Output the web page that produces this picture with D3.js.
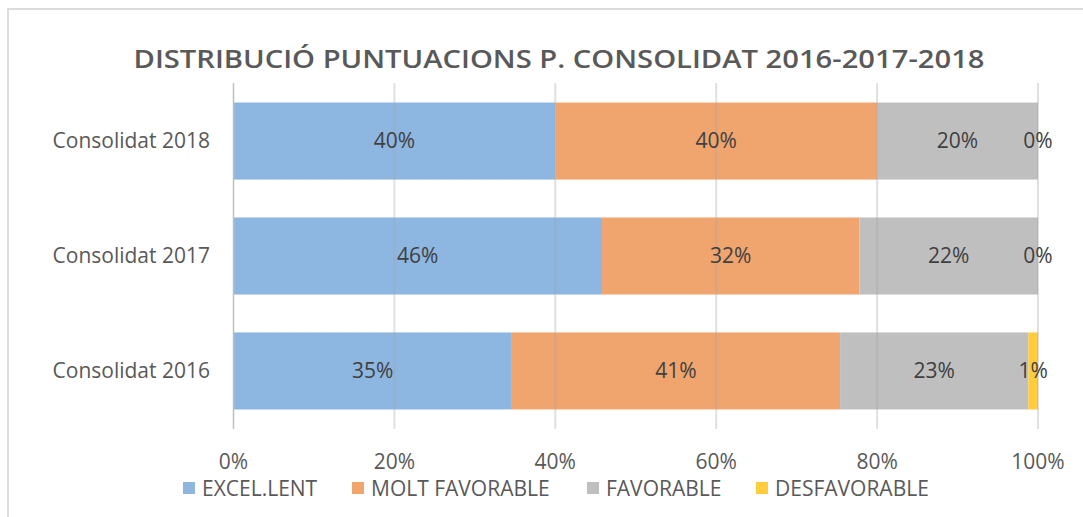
<!DOCTYPE html>
<html>
<head>
<meta charset="utf-8">
<script src="https://cdn.jsdelivr.net/npm/d3@7"></script>
<style>
  body { margin: 0; background: #fff; }
  text { font-family: "Open Sans", "Liberation Sans", sans-serif; }
</style>
</head>
<body>
<svg id="canvas" width="1083" height="517"></svg>
<script>
// chart data
const categories = ['Consolidat 2018', 'Consolidat 2017', 'Consolidat 2016'];
const seriesNames = ['EXCEL.LENT', 'MOLT FAVORABLE', 'FAVORABLE', 'DESFAVORABLE'];
const excellent = [40, 45.8, 34.6];
const moltFavorable = [40, 32, 40.8];
const favorable = [20, 22.2, 23.4];
const desfavorable = [0, 0, 1.2];
const tickValues = [0, 20, 40, 60, 80, 100];
const colors = ['#8DB6E1', '#F0A46E', '#BFBFBF', '#FFCD3C'];

const svg = d3.select('#canvas');

// chart border (only top and left edges are visible in the crop)
svg.append('rect')
    .attr('x', 8).attr('y', 9)
    .attr('width', 1100).attr('height', 520)
    .attr('fill', 'none')
    .attr('stroke', '#dcdcdc')
    .attr('stroke-width', 2);

svg.append('text')
    .attr('x', 559).attr('y', 68)
    .attr('text-anchor', 'middle')
    .attr('textLength', 851)
    .attr('lengthAdjust', 'spacingAndGlyphs')
    .style('font-size', '25px')
    .style('font-weight', 600)
    .style('fill', '#595959')
    .text('DISTRIBUCIÓ PUNTUACIONS P. CONSOLIDAT 2016-2017-2018');

const x = d3.scaleLinear().domain([0, 100]).range([233.5, 1038]);
const y = d3.scaleBand().domain(categories).range([83, 429]).paddingInner(0.33).paddingOuter(0.17);

const rows = categories.map((c, i) => ({
    cat: c,
    vals: [excellent[i], moltFavorable[i], favorable[i], desfavorable[i]]
}));

const segs = [];
rows.forEach(r => {
    let acc = 0;
    r.vals.forEach((v, k) => {
        segs.push({cat: r.cat, k: k, v: v, x0: acc, x1: acc + v});
        acc += v;
    });
});

svg.append('g')
    .selectAll('rect')
    .data(segs)
    .join('rect')
    .attr('x', d => x(d.x0))
    .attr('y', d => y(d.cat))
    .attr('width', d => x(d.x1) - x(d.x0))
    .attr('height', y.bandwidth())
    .attr('fill', d => colors[d.k]);

// gridlines (show through bars)
svg.append('g')
    .selectAll('line')
    .data(tickValues)
    .join('line')
    .attr('x1', d => x(d)).attr('x2', d => x(d))
    .attr('y1', 83).attr('y2', 429)
    .attr('stroke', d => d === 0 ? '#bfbfbf' : '#a6a6a6')
    .attr('stroke-opacity', d => d === 0 ? 1 : 0.35)
    .attr('stroke-width', d => d === 0 ? 1.5 : 2);

// data labels
svg.append('g')
    .selectAll('text')
    .data(segs)
    .join('text')
    .attr('x', d => x((d.x0 + d.x1) / 2))
    .attr('y', d => y(d.cat) + y.bandwidth() / 2 + 7)
    .attr('text-anchor', 'middle')
    .style('font-size', '21px')
    .style('fill', '#404040')
    .text(d => Math.round(d.v) + '%');

// category labels
svg.append('g')
    .selectAll('text')
    .data(categories)
    .join('text')
    .attr('x', 210)
    .attr('y', d => y(d) + y.bandwidth() / 2 + 7)
    .attr('text-anchor', 'end')
    .style('font-size', '21px')
    .style('fill', '#595959')
    .text(d => d);

// x axis labels
svg.append('g')
    .selectAll('text')
    .data(tickValues)
    .join('text')
    .attr('x', d => x(d))
    .attr('y', 469)
    .attr('text-anchor', 'middle')
    .style('font-size', '21px')
    .style('fill', '#595959')
    .text(d => d + '%');

// legend
const legendX = [183, 352, 587, 756];
const legend = svg.append('g')
    .selectAll('g')
    .data(seriesNames)
    .join('g')
    .attr('transform', (d, i) => `translate(${legendX[i]},482)`);
legend.append('rect')
    .attr('width', 12).attr('height', 12)
    .attr('fill', (d, i) => colors[i]);
legend.append('text')
    .attr('x', 19).attr('y', 13.5)
    .style('font-size', '21px')
    .style('fill', '#595959')
    .text(d => d);
</script>
</body>
</html>
